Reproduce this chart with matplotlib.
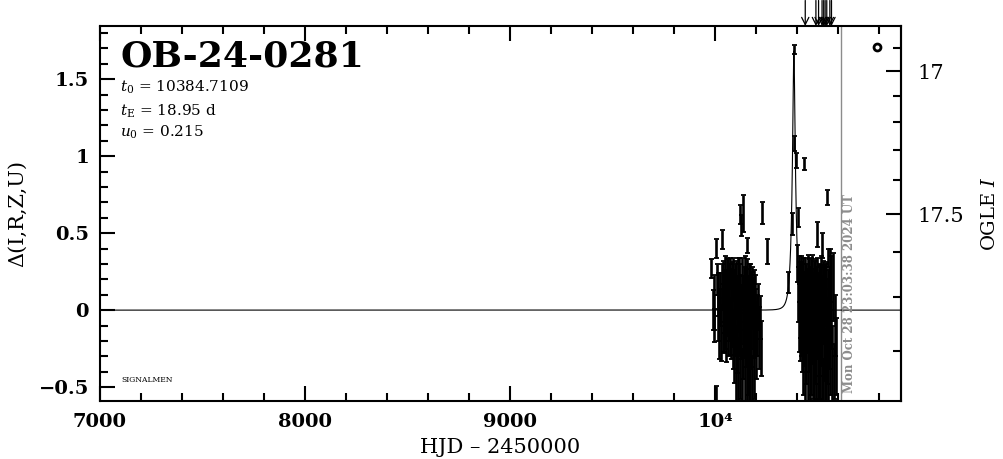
import numpy as np
import matplotlib
matplotlib.use('Agg')
import matplotlib.pyplot as plt
from matplotlib.ticker import MultipleLocator, FixedLocator, FuncFormatter

# event parameters (as printed on the chart)
event_name = 'OB-24-0281'
t0 = 10384.7109
tE = 18.95
u0 = 0.215
blend_fs = 0.30      # source fraction used for the OGLE I axis
base_mag = 17.727    # baseline I magnitude

# season 1 photometry: HJD-2450000, delta mag, error
s1_hjd = [9981, 9988, 9993, 9996, 10003, 10007, 10010, 10013, 10016, 10019,
          10022, 10026, 10029, 10033, 10036, 10038, 10041, 10043, 10046, 10048,
          10051, 10053, 10055, 10058, 10060, 10062, 10065, 10067, 10070, 10072,
          10075, 10077, 10080, 10082, 10085, 10087, 10090, 10092, 10094, 10097,
          10099, 10102, 10104, 10106, 10108, 10111, 10113, 10115, 10117, 10119,
          10121, 10123, 10124, 10126, 10128, 10130, 10132, 10134, 10136, 10138,
          10140, 10142, 10145, 10147, 10149, 10152, 10154, 10156, 10158, 10160,
          10162, 10164, 10166, 10168, 10170, 10172, 10175, 10177, 10180, 10182,
          10185, 10188, 10191, 10194, 10197, 10200, 10204, 10208, 10213, 10218,
          10223, 10230, 10252]
s1_dm = [0.27, 0.00, -0.10, 0.05, -0.55, 0.40, 0.20, -0.05, 0.10, -0.12,
         0.02, 0.08, -0.15, 0.15, 0.46, -0.05, 0.20, 0.05, -0.10, 0.25,
         0.00, 0.12, -0.18, 0.22, 0.03, -0.08, 0.18, -0.02, 0.10, -0.15,
         0.24, 0.05, -0.12, 0.15, 0.00, -0.20, 0.20, 0.06, -0.25, 0.12,
         -0.05, 0.16, -0.35, 0.02, -0.15, 0.20, -0.40, 0.08, -0.10, 0.14,
         -0.30, 0.62, 0.05, 0.55, -0.08, 0.18, -0.45, 0.63, 0.00, -0.20,
         0.10, -0.05, 0.20, -0.30, 0.05, -0.12, 0.15, -0.40, 0.42, -0.02,
         -0.25, 0.10, -0.45, -0.10, 0.12, -0.35, 0.00, -0.15, 0.08, -0.50,
         -0.05, 0.10, -0.30, -0.08, 0.05, -0.20, -0.10, 0.02, -0.18, -0.05,
         -0.25, 0.63, 0.38]
s1_err = [0.06, 0.13, 0.11, 0.18, 0.06, 0.06, 0.10, 0.15, 0.14, 0.20,
          0.12, 0.16, 0.18, 0.15, 0.06, 0.22, 0.12, 0.20, 0.18, 0.10,
          0.25, 0.14, 0.16, 0.12, 0.20, 0.22, 0.15, 0.18, 0.20, 0.14,
          0.10, 0.22, 0.20, 0.16, 0.24, 0.18, 0.14, 0.20, 0.22, 0.18,
          0.25, 0.16, 0.25, 0.20, 0.26, 0.14, 0.22, 0.22, 0.20, 0.20,
          0.28, 0.06, 0.18, 0.07, 0.24, 0.16, 0.20, 0.12, 0.22, 0.25,
          0.18, 0.26, 0.15, 0.30, 0.22, 0.25, 0.18, 0.25, 0.05, 0.24,
          0.30, 0.20, 0.22, 0.28, 0.18, 0.30, 0.25, 0.22, 0.20, 0.20,
          0.26, 0.16, 0.28, 0.22, 0.18, 0.25, 0.20, 0.15, 0.20, 0.14,
          0.18, 0.07, 0.08]

# season 2 photometry (includes the peak)
s2_hjd = [10357, 10374, 10384.5, 10387, 10397, 10400, 10403, 10406, 10408, 10410,
          10412, 10414, 10416, 10418, 10420, 10422, 10424, 10426, 10428, 10430,
          10432, 10434, 10435, 10437, 10439, 10441, 10443, 10445, 10447, 10449,
          10451, 10453, 10455, 10457, 10459, 10461, 10463, 10465, 10467, 10469,
          10471, 10473, 10475, 10477, 10479, 10481, 10483, 10485, 10487, 10489,
          10491, 10493, 10495, 10497, 10499, 10501, 10503, 10505, 10507, 10509,
          10511, 10513, 10515, 10517, 10519, 10521, 10523, 10525, 10527, 10529,
          10531, 10533, 10535, 10537, 10539, 10541, 10543, 10545, 10547, 10549,
          10551, 10553, 10555, 10557, 10560, 10563, 10566, 10570, 10575, 10580,
          10586, 10592]
s2_dm = [0.18, 0.56, 1.69, 1.08, 0.97, 0.30, 0.10, 0.60, -0.05, 0.20,
         0.02, -0.15, 0.15, -0.05, 0.25, -0.20, 0.08, -0.10, 0.18, -0.30,
         0.05, 0.95, -0.12, 0.20, -0.40, 0.00, 0.12, -0.22, 0.05, -0.08,
         0.22, -0.35, 0.02, 0.15, -0.15, 0.08, -0.45, -0.05, 0.18, -0.25,
         0.05, -0.10, 0.22, -0.30, 0.00, 0.12, -0.50, -0.05, 0.15, -0.20,
         0.06, -0.35, 0.49, -0.08, 0.18, -0.40, 0.02, -0.15, 0.12, -0.28,
         0.05, -0.45, 0.20, -0.10, 0.08, 0.42, -0.30, 0.00, -0.52, 0.14,
         -0.18, 0.05, -0.38, 0.10, -0.05, -0.45, 0.15, 0.73, -0.20, 0.34,
         0.02, -0.30, 0.10, -0.12, 0.20, -0.25, 0.05, -0.35, 0.15, -0.40,
         -0.10, -0.30]
s2_err = [0.07, 0.07, 0.03, 0.05, 0.05, 0.12, 0.18, 0.06, 0.22, 0.15,
          0.20, 0.18, 0.16, 0.25, 0.10, 0.20, 0.22, 0.18, 0.16, 0.25,
          0.20, 0.04, 0.24, 0.14, 0.22, 0.25, 0.18, 0.26, 0.22, 0.20,
          0.14, 0.28, 0.24, 0.18, 0.25, 0.20, 0.22, 0.26, 0.16, 0.30,
          0.22, 0.25, 0.14, 0.28, 0.24, 0.20, 0.20, 0.26, 0.18, 0.28,
          0.22, 0.30, 0.08, 0.24, 0.16, 0.25, 0.22, 0.28, 0.18, 0.30,
          0.24, 0.25, 0.15, 0.26, 0.20, 0.08, 0.30, 0.22, 0.20, 0.18,
          0.28, 0.24, 0.26, 0.20, 0.25, 0.22, 0.16, 0.05, 0.28, 0.06,
          0.24, 0.30, 0.18, 0.26, 0.20, 0.30, 0.30, 0.25, 0.22, 0.18,
          0.20, 0.25]

# alert arrows at the top, current-time marker, extra symbol
arrow_hjd = [10440, 10492, 10505, 10522, 10530, 10537, 10545, 10560, 10568]
now_hjd = 10612
now_text = 'Mon Oct 28 23:03:38 2024 UT'
circle_hjd = [10790]
circle_dm = [1.708]


def pspl_dmag(t):
    '''
    Point-source point-lens magnification in magnitudes
    '''
    u = np.sqrt(u0 ** 2 + ((t - t0) / tE) ** 2)
    amp = (u ** 2 + 2) / (u * np.sqrt(u ** 2 + 4))
    return 2.5 * np.log10(amp)


def delta_to_mag(d):
    d = np.asarray(d, dtype=float)
    with np.errstate(all='ignore'):
        return base_mag - 2.5 * np.log10(1 + blend_fs * (10 ** (0.4 * d) - 1))


def mag_to_delta(m):
    m = np.asarray(m, dtype=float)
    with np.errstate(all='ignore'):
        return 2.5 * np.log10(1 + (10 ** (0.4 * (base_mag - m)) - 1) / blend_fs)


plt.rcParams['font.family'] = ['DejaVu Serif']
plt.rcParams['mathtext.fontset'] = 'dejavuserif'

fig = plt.figure(figsize=(10.04, 4.59), dpi=100)
ax = fig.add_axes([0.0996, 0.1264, 0.7978, 0.8170])

xlo, xhi = 7000, 10907
ax.set_xlim(xlo, xhi)
ax.set_ylim(-0.59, 1.845)

# model curve
tt = np.linspace(xlo, xhi, 4000)
ax.plot(tt, pspl_dmag(tt), color='black', lw=0.8, zorder=3)

# data
for hjd, dm, err in [(s1_hjd, s1_dm, s1_err), (s2_hjd, s2_dm, s2_err)]:
    ax.errorbar(hjd, dm, yerr=err, fmt='none', ecolor='black',
                elinewidth=1.9, capsize=1.8, capthick=1.3, zorder=4)

ax.plot(circle_hjd, circle_dm, 'o', mfc='white', mec='black', mew=2,
        ms=5, zorder=5)

# current time
ax.axvline(now_hjd, color='#8c8c8c', lw=1.0, zorder=2)
ax.text(now_hjd + 14, -0.54, now_text, rotation=90, color='#8c8c8c',
        fontsize=8.5, fontweight='bold', ha='left', va='bottom')

# alert arrows above the frame
for a in arrow_hjd:
    ax.annotate('', xy=(a, 1.0), xycoords=('data', 'axes fraction'),
                xytext=(a, 1.068), textcoords=('data', 'axes fraction'),
                arrowprops=dict(arrowstyle='->', lw=0.9, color='black',
                                shrinkA=0, shrinkB=0, mutation_scale=13),
                annotation_clip=False)

# labels inside
ax.text(0.025, 0.965, event_name, transform=ax.transAxes,
        fontsize=26, fontweight='bold', va='top', ha='left')
ax.text(0.025, 0.836, r'$t_0$ = %.4f' % t0, transform=ax.transAxes,
        fontsize=11, va='center', ha='left')
ax.text(0.025, 0.772, r'$t_{\rm E}$ = %.2f d' % tE, transform=ax.transAxes,
        fontsize=11, va='center', ha='left')
ax.text(0.025, 0.716, r'$u_0$ = %.3f' % u0, transform=ax.transAxes,
        fontsize=11, va='center', ha='left')
ax.text(0.027, 0.057, 'SIGNALMEN', transform=ax.transAxes,
        fontsize=5.5, va='center', ha='left')

# axes styling
ax.xaxis.set_major_locator(MultipleLocator(1000))
ax.xaxis.set_minor_locator(MultipleLocator(200))
ax.yaxis.set_major_locator(MultipleLocator(0.5))
ax.yaxis.set_minor_locator(MultipleLocator(0.1))


def xfmt(v, pos):
    if abs(v - 10000) < 1:
        return '10\u2074'
    return '%d' % v


def yfmt(v, pos):
    if abs(v) < 1e-9:
        return '0'
    return ('%g' % v).replace('-', '\u2212')


ax.xaxis.set_major_formatter(FuncFormatter(xfmt))
ax.yaxis.set_major_formatter(FuncFormatter(yfmt))
ax.tick_params(which='both', direction='in', top=True, right=False,
               width=1.5, labelsize=14)
ax.tick_params(axis='x', pad=9)
ax.tick_params(axis='y', pad=8)
ax.tick_params(which='major', length=11)
ax.tick_params(which='minor', length=5.5)
for lab in ax.get_xticklabels() + ax.get_yticklabels():
    lab.set_fontweight('bold')
for sp in ax.spines.values():
    sp.set_linewidth(1.5)

ax.set_xlabel('HJD \u2013 2450000', fontsize=15, labelpad=5)
ax.set_ylabel('\u0394(I,R,Z,U)', fontsize=15, labelpad=8)

secax = ax.secondary_yaxis('right', functions=(delta_to_mag, mag_to_delta))
secax.yaxis.set_major_locator(FixedLocator([17.0, 17.5]))
secax.yaxis.set_minor_locator(FixedLocator([16.9, 17.1, 17.2, 17.3, 17.4,
                                            17.6, 17.7, 17.8]))
secax.yaxis.set_major_formatter(FuncFormatter(lambda v, p: '%g' % v))
secax.tick_params(which='both', direction='in', width=1.5, labelsize=15,
                  pad=12)
secax.tick_params(which='major', length=11)
secax.tick_params(which='minor', length=5.5)
secax.spines['right'].set_linewidth(1.5)
secax.set_ylabel('OGLE $I$', fontsize=14, labelpad=12)

fig.savefig('out.png', dpi=100)
